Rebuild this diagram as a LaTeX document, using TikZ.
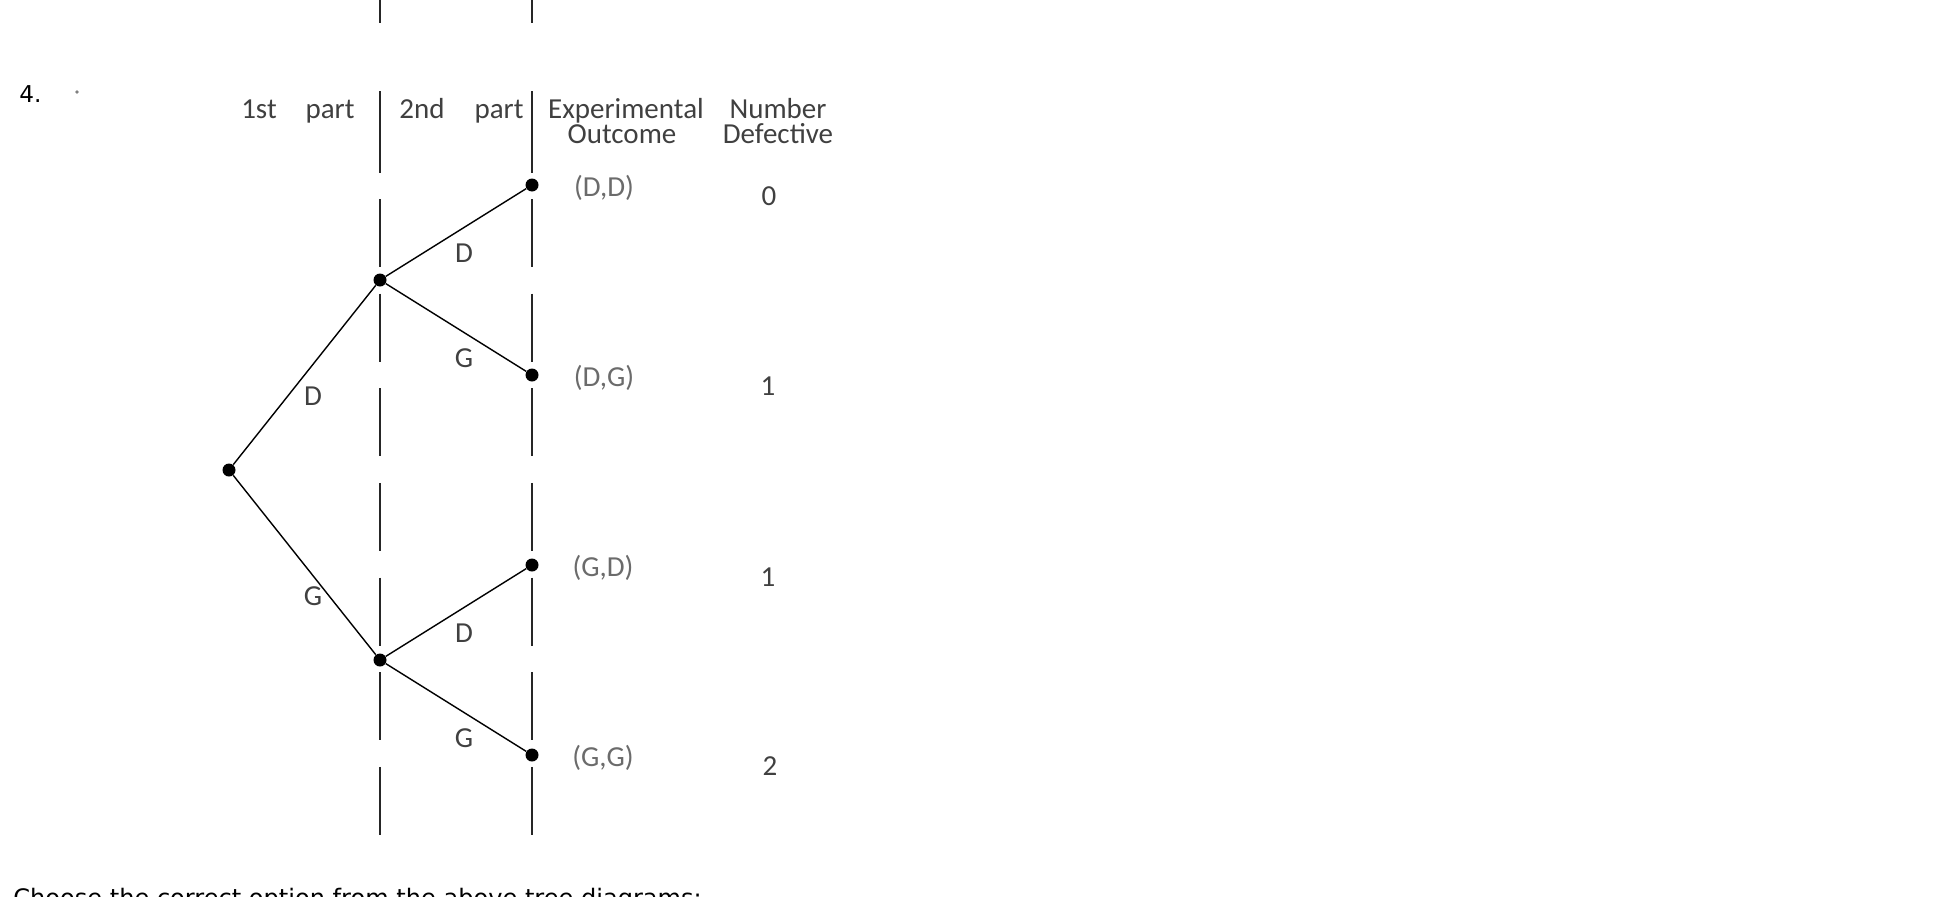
\documentclass[tikz,border=0pt]{standalone}
\usepackage{fontspec}
\setmainfont{DejaVu Sans}
\newfontfamily\treefont{Carlito}
\usepackage{tikz}
\usepackage{color}
\definecolor{labgray}{rgb}{0.25,0.25,0.25}
\definecolor{outgray}{rgb}{0.42,0.42,0.42}

\begin{document}
\begin{tikzpicture}[x=0.02cm, y=-0.02cm,
		  dot/.style={circle, fill=black, inner sep=0pt, minimum size=0.26cm},
		  branch/.style={line width=0.8pt, black},
		  stage/.style={line width=1.1pt, black!85},
		  txt/.style={font=\treefont\fontsize{16.5}{18}\selectfont, text=labgray, inner sep=0pt, anchor=base},
		  outc/.style={txt, text=outgray}]
		  \useasboundingbox (0,0) rectangle (1950,896);
		  % dashed stage lines
		  \foreach \x in {380,532}{
		      \draw[stage] (\x,0) -- (\x,23);
		      \draw[stage] (\x,91) -- (\x,173);
		      \draw[stage, dash pattern=on 1.36cm off 0.533cm] (\x,199) -- (\x,835);
		  }
		  \node[font=\fontsize{13.2}{16}\selectfont, inner sep=0pt, anchor=base west] (num) at (19,102) {4.};
		  \node[circle, fill=gray, inner sep=0pt, minimum size=2pt] (speck) at (77,92) {};
		  % headers
		  \node[txt] (h1a) at (259,118) {1st};
		  \node[txt] (h1b) at (330,118) {part};
		  \node[txt] (h2a) at (422,118) {2nd};
		  \node[txt] (h2b) at (499,118) {part};
		  \node[txt] (h3a) at (626,118) {Experimental};
		  \node[txt] (h3b) at (622,143) {Outcome};
		  \node[txt] (h4a) at (778,118) {Number};
		  \node[txt] (h4b) at (778,143) {Defective};
		  % tree
		  \node[dot] (root) at (229,470) {};
		  \node[dot] (D) at (380,280) {};
		  \node[dot] (G) at (380,660) {};
		  \node[dot] (DD) at (532,185) {};
		  \node[dot] (DG) at (532,375) {};
		  \node[dot] (GD) at (532,565) {};
		  \node[dot] (GG) at (532,755) {};
		  \draw[branch] (root) -- (D);
		  \draw[branch] (root) -- (G);
		  \draw[branch] (D) -- (DD);
		  \draw[branch] (D) -- (DG);
		  \draw[branch] (G) -- (GD);
		  \draw[branch] (G) -- (GG);
		  \node[txt] (lD) at (313,405) {D};
		  \node[txt] (lG) at (313,605) {G};
		  \node[txt] (lDD) at (464,262) {D};
		  \node[txt] (lDG) at (464,367) {G};
		  \node[txt] (lGD) at (464,642) {D};
		  \node[txt] (lGG) at (464,747) {G};
		  \node[outc] (oDD) at (604,196) {(D,D)};
		  \node[outc] (oDG) at (604,386) {(D,G)};
		  \node[outc] (oGD) at (603,576) {(G,D)};
		  \node[outc] (oGG) at (603,766) {(G,G)};
		  \node[txt] (nDD) at (769,205) {0};
		  \node[txt] (nDG) at (768,395) {1};
		  \node[txt] (nGD) at (768,586) {1};
		  \node[txt] (nGG) at (770,775) {2};
		  \node[font=\fontsize{13.7}{16}\selectfont, inner sep=0pt, anchor=base west] (ask) at (13,906) {Choose the correct option from the above tree diagrams:};
	\end{tikzpicture}
\end{document}
